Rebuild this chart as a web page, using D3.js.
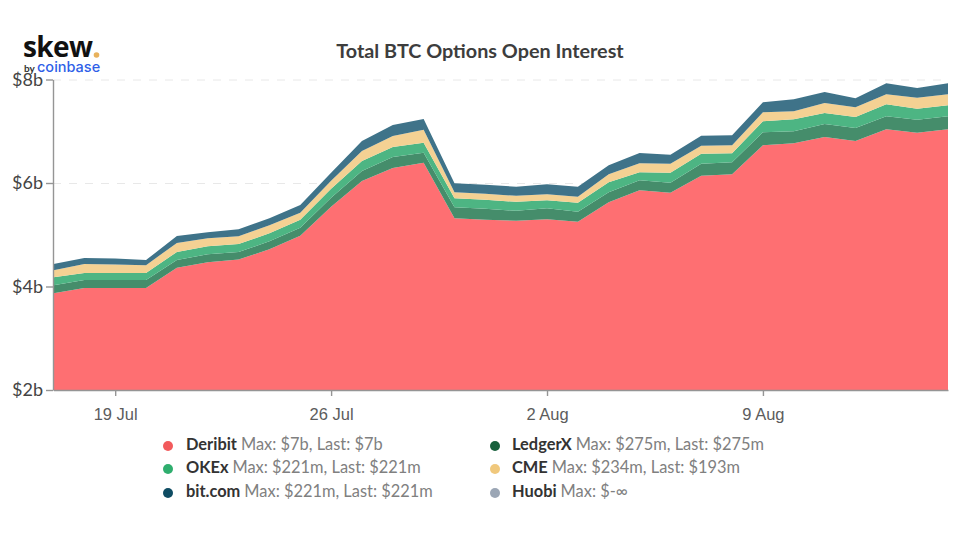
<!DOCTYPE html>
<html>
<head>
<meta charset="utf-8">
<script src="https://cdn.jsdelivr.net/npm/d3@7"></script>
<style>
  body { margin: 0; background: #fff; }
  svg { display: block; font-family: Lato, sans-serif; }
  .grid line { stroke: #e8e8e8; stroke-dasharray: 8 8; }
  .grid path { display: none; }
  .axis path, .axis line { stroke: #959595; stroke-width: 1.4; }
  .yAxis text { font-family: Lato, sans-serif; font-size: 18px; fill: #444; }
  .xAxis text { font-size: 16.5px; fill: #5c5c5c; }
</style>
</head>
<body>
<svg id="chart" width="960" height="536"></svg>
<script>
// daily values, $m
const startDay = new Date(2020, 6, 17)
const deribit = [3870,3970,3970,3970,4360,4470,4520,4720,4980,5540,6040,6290,6390,5320,5290,5270,5300,5250,5630,5860,5810,6140,6170,6730,6770,6890,6810,7040,6970,7040]
const ledgerx = [154,154,154,154,154,154,145,154,154,174,193,212,193,212,212,193,212,193,193,193,193,232,232,251,232,251,251,251,251,251]
const okex = [154,135,135,135,154,154,154,154,154,174,193,193,193,174,174,174,154,174,193,154,193,193,174,212,232,212,212,232,212,212]
const cme = [135,174,164,154,174,154,154,154,135,154,193,212,251,116,116,116,116,116,154,174,174,154,154,174,154,193,193,193,212,212]
const bitcom = [120,116,116,97,135,116,135,135,150,154,193,212,212,174,174,174,193,193,174,200,174,193,193,193,232,212,174,212,193,212]

const seriesKeys = ["Deribit", "LedgerX", "OKEx", "CME", "bit.com"]
const seriesValues = [deribit, ledgerx, okex, cme, bitcom]
const areaColors = ["#fe6f72", "#458d6b", "#4db583", "#f4d193", "#3f7389"]

const legendNames = ["Deribit", "LedgerX", "OKEx", "CME", "bit.com", "Huobi"]
const legendInfo = ["Max: $7b, Last: $7b", "Max: $275m, Last: $275m", "Max: $221m, Last: $221m", "Max: $234m, Last: $193m", "Max: $221m, Last: $221m", "Max: $-∞"]
const legendColors = ["#f25a5c", "#17603c", "#2fae6e", "#f0c87c", "#0f4c63", "#9ba6b5"]

const yTicks = [2000, 4000, 6000, 8000]
const xTicks = [new Date(2020, 6, 19), new Date(2020, 6, 26), new Date(2020, 7, 2), new Date(2020, 7, 9)]

const svg = d3.select("#chart")

const rows = deribit.map((d, i) => {
  const row = { date: d3.timeDay.offset(startDay, i) }
  seriesKeys.forEach((k, j) => { row[k] = seriesValues[j][i] })
  return row
})

const x = d3.scaleTime()
  .domain([startDay, rows[rows.length - 1].date])
  .range([53.5, 948])
const y = d3.scaleLinear().domain([2000, 8000]).range([390, 79.5])

// gridlines
svg.append("g")
  .attr("class", "grid")
  .attr("transform", "translate(53,0)")
  .call(d3.axisLeft(y).tickValues(yTicks).tickSize(-895).tickFormat(""))

// stacked areas
const stacked = d3.stack().keys(seriesKeys)(rows)
const area = d3.area()
  .x(d => x(d.data.date))
  .y0(d => y(Math.max(d[0], 2000)))
  .y1(d => y(d[1]))

svg.append("g")
  .selectAll("path")
  .data(stacked)
  .enter()
  .append("path")
  .attr("d", area)
  .attr("fill", (d, i) => areaColors[i])

// axes
svg.append("g")
  .attr("class", "axis yAxis")
  .attr("transform", "translate(53,0)")
  .call(d3.axisLeft(y).tickValues(yTicks).tickSize(7).tickSizeOuter(0).tickPadding(3).tickFormat(d => "$" + d / 1000 + "b"))

svg.append("g")
  .attr("class", "axis xAxis")
  .attr("transform", "translate(0,390)")
  .call(d3.axisBottom(x).tickValues(xTicks).tickSize(6).tickSizeOuter(0).tickPadding(12).tickFormat(d3.timeFormat("%-d %b")))

// title
svg.append("text")
  .attr("x", 480)
  .attr("y", 58)
  .attr("text-anchor", "middle")
  .style("font-size", "19.8px")
  .style("font-weight", 700)
  .style("fill", "#3d3d3d")
  .text("Total BTC Options Open Interest")

// logo
svg.append("text")
  .attr("x", 23)
  .attr("y", 57)
  .style("font-family", "'Open Sans', sans-serif")
  .style("font-size", "28px")
  .style("font-weight", 700)
  .style("letter-spacing", "-0.6px")
  .style("fill", "#111")
  .text("skew")
svg.append("circle").attr("cx", 96.5).attr("cy", 55).attr("r", 2.8).attr("fill", "#e8b25c")
svg.append("text")
  .attr("x", 24)
  .attr("y", 72)
  .style("font-size", "10px")
  .style("font-weight", 700)
  .style("fill", "#333")
  .text("by")
svg.append("text")
  .attr("x", 37)
  .attr("y", 72)
  .style("font-family", "Inter, sans-serif")
  .style("font-size", "14.5px")
  .style("font-weight", 500)
  .style("fill", "#2f5fe8")
  .text("coinbase")

// legend
const legend = svg.selectAll(".legend")
  .data(legendNames)
  .enter()
  .append("g")
  .attr("class", "legend")
  .attr("transform", (d, i) => `translate(${i % 2 ? 495 : 168},${[446, 469, 493][Math.floor(i / 2)]})`)

legend.append("circle")
  .attr("r", 5)
  .attr("fill", (d, i) => legendColors[i])

const label = legend.append("text")
  .attr("x", (d, i) => i % 2 ? 17 : 18)
  .attr("y", 3.5)
  .style("font-size", "16.4px")
label.append("tspan")
  .style("font-weight", 700)
  .style("fill", "#333")
  .text(d => d)
label.append("tspan")
  .attr("dx", 4)
  .style("fill", "#808080")
  .text((d, i) => legendInfo[i])
</script>
</body>
</html>
